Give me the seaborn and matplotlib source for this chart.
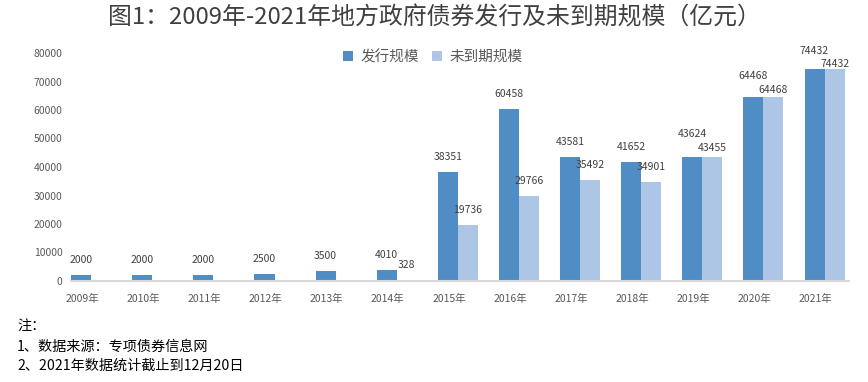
import matplotlib
matplotlib.use("Agg")
import matplotlib.pyplot as plt
import matplotlib.transforms as mtransforms
import seaborn as sns
import pandas as pd

years = ["2009年", "2010年", "2011年", "2012年", "2013年", "2014年", "2015年",
         "2016年", "2017年", "2018年", "2019年", "2020年", "2021年"]
issuance = [2000, 2000, 2000, 2500, 3500, 4010, 38351, 60458, 43581, 41652, 43624, 64468, 74432]
outstanding = [0, 0, 0, 0, 0, 328, 19736, 29766, 35492, 34901, 43455, 64468, 74432]
series_names = ["发行规模", "未到期规模"]
title = "图1：2009年-2021年地方政府债券发行及未到期规模（亿元）"
notes = ["注：", "1、数据来源：专项债券信息网", "2、2021年数据统计截止到12月20日"]

sns.set_theme(style="white")
plt.rcParams['font.family'] = ['Noto Sans CJK SC', 'DejaVu Sans']

df = pd.DataFrame({
    "year": years * 2,
    "value": issuance + outstanding,
    "series": [series_names[0]] * len(years) + [series_names[1]] * len(years),
})

fig = plt.figure(figsize=(8.68, 3.82), dpi=100)
ax = fig.add_axes([71 / 868, 1 - 281 / 382, 778 / 868, 228 / 382])

colors = ["#508DC5", "#AEC6E6"]
sns.barplot(data=df, x="year", y="value", hue="series", palette=colors,
            width=0.655, gap=0, ax=ax, saturation=1, linewidth=0, legend=True)

ax.set_xlim(-0.33, 12.4)
ax.set_ylim(0, 80000)
ax.set_yticks(range(0, 80001, 10000))
ax.set_xlabel("")
ax.set_ylabel("")
for s in ["top", "right", "left"]:
    ax.spines[s].set_visible(False)
ax.spines["bottom"].set_color("#D9D9D9")
ax.spines["bottom"].set_linewidth(1.5)
ax.tick_params(axis="both", length=0, labelsize=7.5, colors="#595959")
ax.tick_params(axis="x", pad=9)
ax.tick_params(axis="y", pad=6)
shift = mtransforms.ScaledTranslation(-9 / 100, 0, fig.dpi_scale_trans)
for lab in ax.get_xticklabels():
    lab.set_transform(lab.get_transform() + shift)

# data labels
offs_issue = [15] * 10 + [23, 21, 18]
offs_out = [15] * 10 + [9, 7, 5]
for ci, (cont, offs) in enumerate(zip(ax.containers, [offs_issue, offs_out])):
    for i, bar in enumerate(cont):
        h = bar.get_height()
        if h <= 0:
            continue
        x = bar.get_x() + bar.get_width() / 2
        ax.annotate(f"{int(h)}", (x, h), xytext=(0, offs[i] * 0.72),
                    textcoords="offset points", ha="center", va="center",
                    fontsize=7.5, color="#404040", annotation_clip=False)

leg = ax.legend(loc="center", bbox_to_anchor=(433 / 868, 1 - 57 / 382),
                bbox_transform=fig.transFigure, ncol=2, frameon=False,
                fontsize=10.5, handlelength=0.7, handleheight=0.7,
                handletextpad=0.5, columnspacing=0.9, labelcolor="#595959")

fig.text(434 / 868, 1 - 18 / 382, title, ha="center", va="center",
         fontsize=17.2, fontweight="medium", color="#404040")
for k, (t, yy) in enumerate(zip(notes, [327, 347, 366])):
    fig.text(17 / 868, 1 - yy / 382, t, ha="left", va="center",
             fontsize=10.2, color="#000000")

fig.savefig("out.png", dpi=100)
